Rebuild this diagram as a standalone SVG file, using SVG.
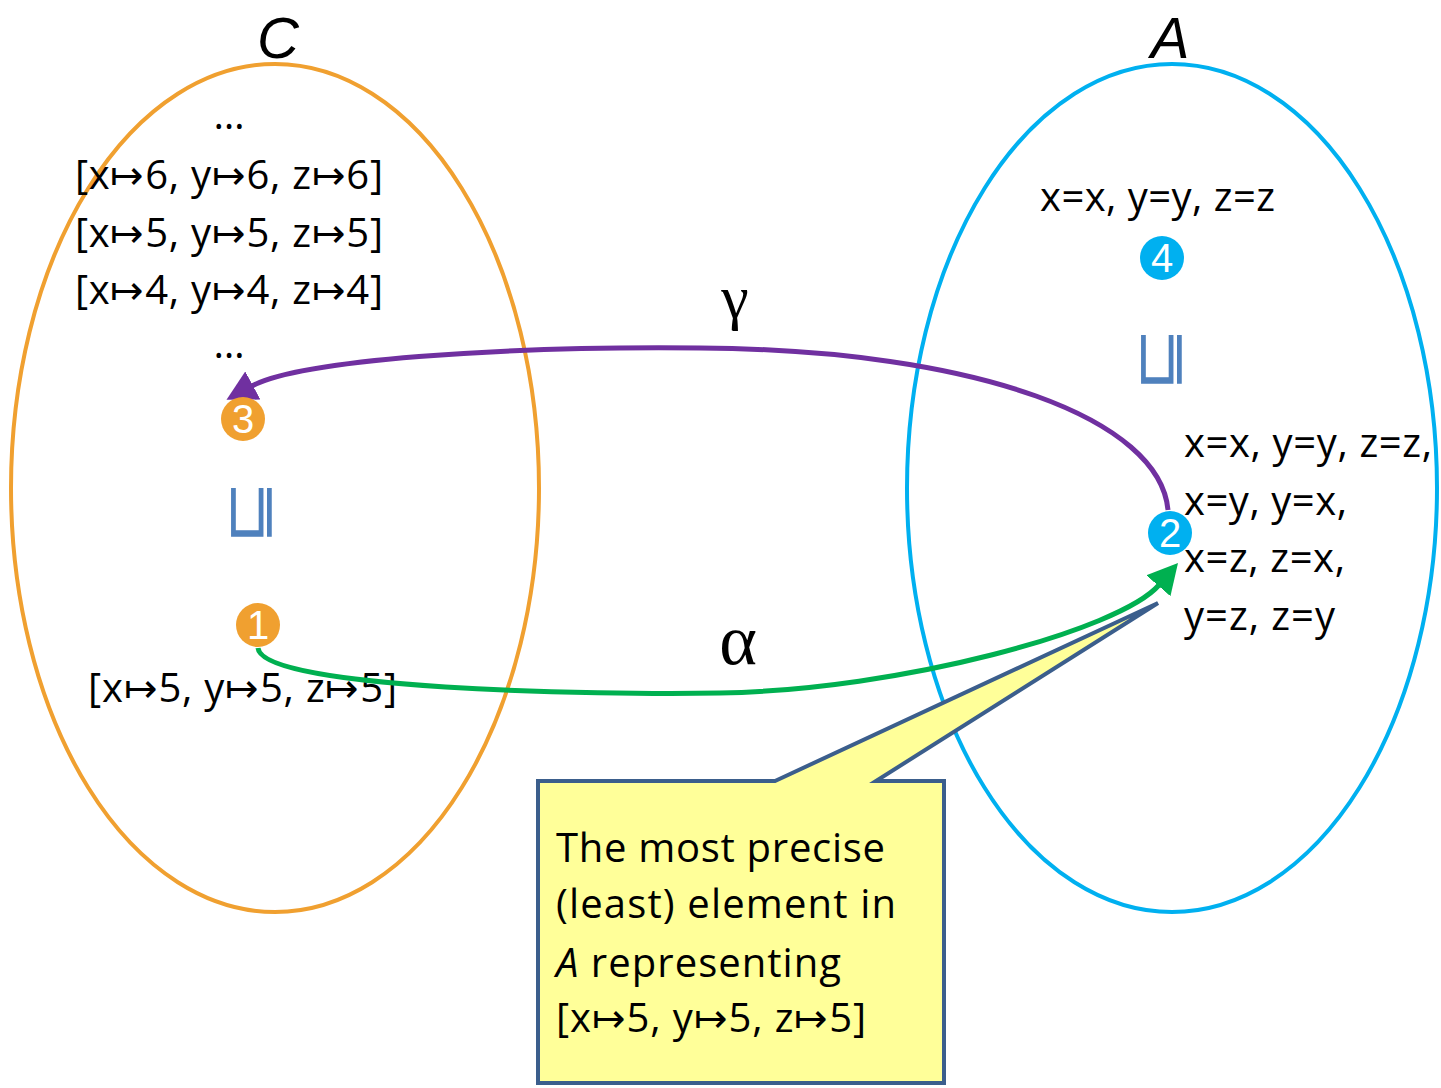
<svg xmlns="http://www.w3.org/2000/svg" width="1441" height="1088" viewBox="0 0 1441 1088">
<style>
.t{font-family:"Open Sans","Liberation Sans",Arial,sans-serif;font-size:40px;fill:#000}
.num{font-family:"Liberation Sans",Arial,sans-serif;font-size:40px;fill:#fff;text-anchor:middle}
.sq{font-family:"DejaVu Sans",sans-serif;font-weight:200;font-size:60px;fill:#4F81BD;text-anchor:middle}
.greek{font-family:"Liberation Serif","Times New Roman",serif;fill:#000;text-anchor:middle}
.set{font-family:"Liberation Sans",Arial,sans-serif;font-style:italic;font-size:58px;fill:#000;text-anchor:middle}
</style>
<defs>
<marker id="ap" viewBox="0 0 30 32" refX="1" refY="16" markerWidth="30" markerHeight="32" orient="auto" markerUnits="userSpaceOnUse">
<path d="M0,0 L30,16 L0,32 z" fill="#7030A0"/>
</marker>
<marker id="ag" viewBox="0 0 30 32" refX="1" refY="16" markerWidth="30" markerHeight="32" orient="auto" markerUnits="userSpaceOnUse">
<path d="M0,0 L30,16 L0,32 z" fill="#00B050"/>
</marker>
</defs>
<rect width="1441" height="1088" fill="#fff"/>
<g id="setC">
<ellipse cx="275" cy="488" rx="264" ry="424" fill="none" stroke="#F0A030" stroke-width="4"/>
<text class="set" x="278" y="58">C</text>
<text class="t" x="229" y="129" text-anchor="middle">…</text>
<text class="t" x="75" y="189" textLength="308">[x↦6, y↦6, z↦6]</text>
<text class="t" x="75" y="247" textLength="308">[x↦5, y↦5, z↦5]</text>
<text class="t" x="75" y="304" textLength="308">[x↦4, y↦4, z↦4]</text>
<text class="t" x="229" y="358" text-anchor="middle">…</text>
<text class="sq" transform="translate(247,512) rotate(-90) scale(1.3,0.95)" dominant-baseline="central">⊑</text>
<text class="t" x="88" y="702" textLength="309">[x↦5, y↦5, z↦5]</text>
</g>
<g id="setA">
<ellipse cx="1172" cy="488" rx="265" ry="424" fill="none" stroke="#00B0F0" stroke-width="4"/>
<text class="set" x="1170" y="58">A</text>
<text class="t" x="1040" y="211" textLength="235">x=x, y=y, z=z</text>
<text class="sq" transform="translate(1157,359) rotate(-90) scale(1.3,0.95)" dominant-baseline="central">⊑</text>
<text class="t" x="1184" y="457" textLength="248">x=x, y=y, z=z,</text>
<text class="t" x="1184" y="515" textLength="163">x=y, y=x,</text>
<text class="t" x="1184" y="572" textLength="161">x=z, z=x,</text>
<text class="t" x="1184" y="630" textLength="151">y=z, z=y</text>
</g>
<g id="connectors">
<path d="M1168,510 C1160,420 980,350 700,348 C500,346 300,360 252,386" fill="none" stroke="#7030A0" stroke-width="5" marker-end="url(#ap)"/>
<text class="greek" x="735" y="318" font-size="62">γ</text>
<path d="M258,648 C262,690 600,695 720,693 C900,690 1120,630 1159,585" fill="none" stroke="#00B050" stroke-width="5" marker-end="url(#ag)"/>
<text class="greek" x="738" y="664" font-size="72">α</text>
</g>
<g id="node3"><circle cx="243" cy="419" r="22" fill="#F0A030"/><text class="num" x="243" y="433">3</text></g>
<g id="node1"><circle cx="258" cy="625" r="22" fill="#F0A030"/><text class="num" x="258" y="639">1</text></g>
<g id="node4"><circle cx="1162" cy="258" r="22" fill="#00B0F0"/><text class="num" x="1162" y="272">4</text></g>
<g id="node2"><circle cx="1170" cy="533" r="22" fill="#00B0F0"/><text class="num" x="1170" y="547">2</text></g>
<g id="callout">
<path d="M538,781 L775,781 L1158,603 L876,781 L944,781 L944,1083 L538,1083 Z" fill="#FFFF99" stroke="#3B5E8C" stroke-width="4" stroke-linejoin="miter"/>
<text class="t" x="556" y="862" textLength="329">The most precise</text>
<text class="t" x="556" y="918" textLength="340">(least) element in</text>
<text class="t" x="556" y="977" textLength="285"><tspan font-style="italic">A</tspan> representing</text>
<text class="t" x="556" y="1032" textLength="310">[x↦5, y↦5, z↦5]</text>
</g>
</svg>
